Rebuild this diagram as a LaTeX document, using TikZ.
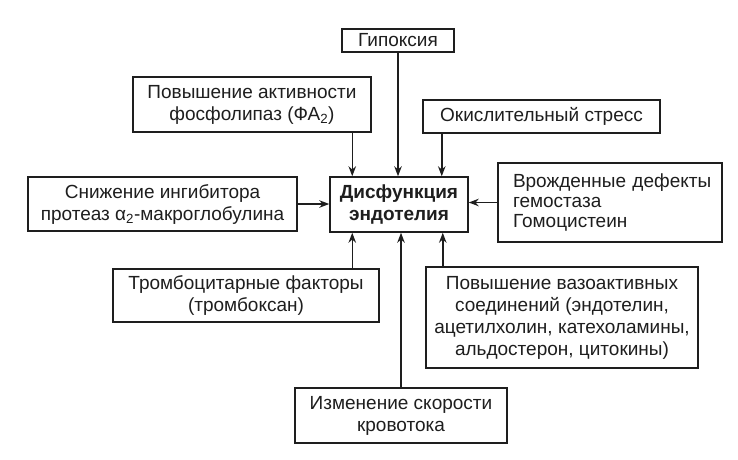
\documentclass[tikz,border=0pt]{standalone}
\usepackage{fontspec}
\setmainfont{Liberation Sans}
\usetikzlibrary{arrows.meta}
\definecolor{ink}{HTML}{1E1E1E}
\tikzset{
  box/.style={draw=ink, line width=1.5pt, fill=white, inner sep=1pt, align=center,
    font=\fontsize{19}{22}\selectfont, text=ink},
  arr/.style={draw=ink, line width=1.5pt, -{Stealth[length=10pt,width=7.5pt]}},
}
\begin{document}
\begin{tikzpicture}[x=1pt,y=-1pt]
\useasboundingbox (0,0) rectangle (738,459);
\fill[white] (0,0) rectangle (738,459);
\node[box, minimum width=112pt, minimum height=23pt] (hyp) at (398,40.5) {Гипоксия};
\node[box, minimum width=238pt, minimum height=55pt] (fa) at (252,104.5) {Повышение активности\\фосфолипаз (ФА\textsubscript{2})};
\node[box, minimum width=237pt, minimum height=33pt] (ox) at (541.5,116.5) {Окислительный стресс};
\node[box, minimum width=138pt, minimum height=55pt, font=\fontsize{19}{22}\selectfont\bfseries] (cen) at (399,204.5) {Дисфункция\\эндотелия};
\node[box, minimum width=269pt, minimum height=54pt] (sn) at (162.5,204) {Снижение ингибитора\\протеаз α\textsubscript{2}-макроглобулина};
\node[box, minimum width=224pt, minimum height=79pt, align=left, text width=212pt, inner sep=0pt, font=\fontsize{19}{20}\selectfont] (vr) at (610,202.5) {\hspace*{9pt}Врожденные дефекты\\\hspace*{9pt}гемостаза\\\hspace*{9pt}Гомоцистеин};
\node[box, minimum width=266pt, minimum height=53pt] (tr) at (246,295.5) {Тромбоцитарные факторы\\(тромбоксан)};
\node[box, minimum width=272pt, minimum height=101pt] (vz) at (562,317.5) {Повышение вазоактивных\\соединений (эндотелин,\\ацетилхолин, катехоламины,\\альдостерон, цитокины)};
\node[box, minimum width=212pt, minimum height=55pt] (iz) at (401,415.5) {Изменение скорости\\кровотока};
\draw[arr] (hyp.south) -- (hyp.south |- cen.north);
\draw[arr] ([xshift=23pt]cen.north west |- fa.south) -- ([xshift=23pt]cen.north west);
\draw[arr] ([xshift=-27pt]cen.north east |- ox.south) -- ([xshift=-27pt]cen.north east);
\draw[arr] (sn.east) -- (sn.east -| cen.west);
\draw[arr] (vr.west) -- (vr.west -| cen.east);
\draw[arr] ([xshift=23pt]cen.south west |- tr.north) -- ([xshift=23pt]cen.south west);
\draw[arr] ([xshift=-26pt]cen.south east |- vz.north) -- ([xshift=-26pt]cen.south east);
\draw[arr] (iz.north) -- (iz.north |- cen.south);
\end{tikzpicture}
\end{document}
